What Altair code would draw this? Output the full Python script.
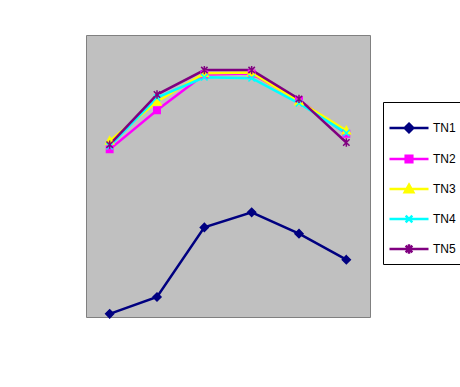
import altair as alt
import pandas as pd

days = ["0", "1", "3", "5", "9", "25"]
series = ["TN1", "TN2", "TN3", "TN4", "TN5"]
tn1 = [1.1, 1.64, 3.86, 4.34, 3.66, 2.83]
tn2 = [6.35, 7.6, 8.74, 8.77, 7.92, 6.85]
tn3 = [6.62, 7.87, 8.78, 8.8, 7.88, 6.95]
tn4 = [6.45, 8.0, 8.65, 8.62, 7.82, 6.87]
tn5 = [6.5, 8.1, 8.88, 8.88, 7.96, 6.57]
colors = ["#000080", "#FF00FF", "#FFFF00", "#00FFFF", "#800080"]

marker_paths = [
    "M0,-1L1,0L0,1L-1,0Z",
    "M-0.8,-0.8H0.8V0.8H-0.8Z",
    "M0,-1L1,0.8H-1Z",
    "M-0.8,-0.8L0.8,0.8M-0.8,0.8L0.8,-0.8",
    "M-0.8,-0.8L0.8,0.8M-0.8,0.8L0.8,-0.8M0,-1.05V1.05",
]
legend_paths = [
    "M-1,0H1M0,-0.22L0.22,0L0,0.22L-0.22,0Z",
    "M-1,0H1M-0.17,-0.17H0.17V0.17H-0.17Z",
    "M-1,0H1M0,-0.22L0.22,0.17H-0.22Z",
    "M-1,0H1M-0.17,-0.17L0.17,0.17M-0.17,0.17L0.17,-0.17",
    "M-1,0H1M-0.17,-0.17L0.17,0.17M-0.17,0.17L0.17,-0.17M0,-0.24V0.24",
]

rows = []
for name, vals in zip(series, [tn1, tn2, tn3, tn4, tn5]):
    for i, (d, v) in enumerate(zip(days, vals)):
        rows.append({"series": name, "day": d, "idx": i, "value": v})
df = pd.DataFrame(rows)

band_px = 284 / len(days)
label_expr = "[" + ",".join(f"'{d}'" for d in days) + ",''][round(datum.value + 0.5)]"

xscale = alt.Scale(domain=[-0.5, len(days) - 0.5], nice=False, zero=False)
yscale = alt.Scale(domain=[1, 10], nice=False, zero=False)
cscale = alt.Scale(domain=series, range=colors)

yaxis = alt.Axis(
    values=list(range(1, 11)), title="LAB (lg CFU/g)", grid=True, gridColor="#000000",
    gridOpacity=1, gridWidth=1, domainColor="#000000", tickColor="#000000", tickSize=5,
    labelPadding=3, labelFont="Liberation Sans", labelFontSize=12, labelColor="#000000",
    labelOverlap=False,
    titleFont="Liberation Sans", titleFontSize=12, titleFontWeight="normal", titleColor="#000000",
    titleX=-49, titleY=106, titleAngle=270, titleAlign="center", titleBaseline="middle",
)

xaxis = alt.Axis(
    values=[i - 0.5 for i in range(len(days) + 1)], labelExpr=label_expr,
    labelOffset=band_px / 2, labelAngle=0, labelFlush=False,
    ticks=True, tickSize=5, tickColor="#000000", grid=False, labelOverlap=False,
    domainColor="#000000", labelPadding=9, labelFont="Liberation Sans", labelFontSize=12,
    labelColor="#000000", title="Thời gian (ngày)", titleFont="Liberation Sans", titleFontSize=12,
    titleFontWeight="normal", titleColor="#000000", titlePadding=10,
)

base = alt.Chart(df)

lines = base.mark_line(strokeWidth=2.5).encode(
    x=alt.X("idx:Q", scale=xscale, axis=xaxis),
    y=alt.Y("value:Q", scale=yscale, axis=yaxis),
    color=alt.Color("series:N", scale=cscale, legend=None),
    detail="series:N",
)

points = base.mark_point(filled=True, size=64, strokeWidth=1.5, opacity=1).encode(
    x=alt.X("idx:Q", scale=xscale, axis=None),
    y=alt.Y("value:Q", scale=yscale, axis=None),
    color=alt.Color("series:N", scale=cscale, legend=None),
    stroke=alt.Stroke("series:N", scale=cscale, legend=None),
    shape=alt.Shape("series:N", scale=alt.Scale(domain=series, range=marker_paths), legend=None),
)

leg = alt.Legend(
    title=None, orient="none", legendX=297, legendY=67, symbolSize=1521,
    symbolStrokeWidth=2.5, symbolOpacity=1, labelFont="Liberation Sans", labelFontSize=12,
    labelColor="#000000", labelOffset=3, padding=5, rowPadding=-19,
    strokeColor="#000000", fillColor="#FFFFFF",
)

legend_layer = base.mark_point(filled=True, size=1521, strokeWidth=2.5, opacity=0).encode(
    x=alt.X("idx:Q", scale=xscale, axis=None),
    y=alt.Y("value:Q", scale=yscale, axis=None),
    color=alt.Color("series:N", scale=cscale, legend=leg),
    stroke=alt.Stroke("series:N", scale=cscale, legend=leg),
    shape=alt.Shape("series:N", scale=alt.Scale(domain=series, range=legend_paths), legend=leg),
)

chart = alt.layer(lines, points, legend_layer).resolve_scale(
    shape="independent", color="independent", stroke="independent"
).properties(
    width=284, height=282,
    autosize=alt.AutoSizeParams(type="none"),
    padding={"left": 86, "top": 35, "right": 90, "bottom": 70},
    background="#FFFFFF",
).configure_view(fill="#C0C0C0", stroke="#808080", strokeWidth=1)

chart.save("out.html", embed_options={"renderer": "svg", "actions": False})
